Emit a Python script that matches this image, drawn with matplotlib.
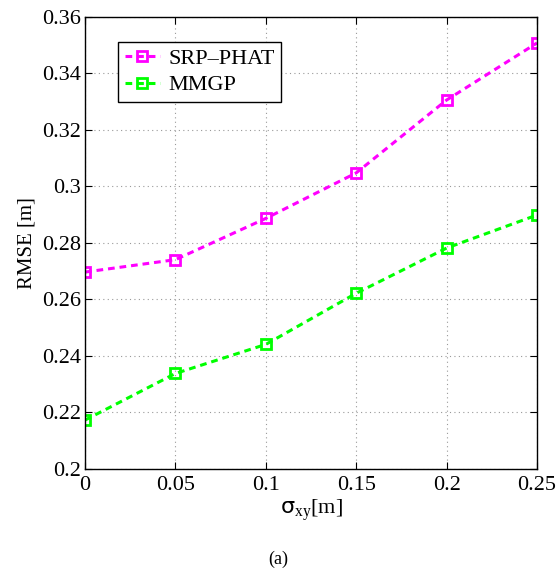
import matplotlib
matplotlib.use("Agg")
import matplotlib.pyplot as plt
import numpy as np

sigma_xy = [0, 0.05, 0.1, 0.15, 0.2, 0.25]
rmse_srp_phat = [0.2697, 0.2741, 0.2887, 0.3048, 0.3306, 0.3508]
rmse_mmgp = [0.2173, 0.2338, 0.2441, 0.2622, 0.2782, 0.2899]
x_ticks = [0, 0.05, 0.1, 0.15, 0.2, 0.25]
x_tick_labels = ["0", "0.05", "0.1", "0.15", "0.2", "0.25"]
y_ticks = [0.2, 0.22, 0.24, 0.26, 0.28, 0.3, 0.32, 0.34, 0.36]
y_tick_labels = ["0.2", "0.22", "0.24", "0.26", "0.28", "0.3", "0.32", "0.34", "0.36"]

plt.rcParams["font.family"] = ["Liberation Serif", "DejaVu Serif"]
plt.rcParams["mathtext.fontset"] = "custom"
plt.rcParams["mathtext.rm"] = "Liberation Serif"
plt.rcParams["mathtext.it"] = "Liberation Serif:italic"
plt.rcParams["mathtext.sf"] = "DejaVu Sans"

fig = plt.figure(figsize=(5.56, 5.72), dpi=100)
ax = fig.add_axes([0.1529, 0.1801, 0.8129, 0.7902])

line_kw = dict(linestyle=(0, (2.2, 1.6)), linewidth=2.2, marker="s",
               markersize=7, markerfacecolor="none", markeredgewidth=2)
ax.plot(sigma_xy, rmse_srp_phat, color="#ff00ff", label="SRP\u2013PHAT", **line_kw)
ax.plot(sigma_xy, rmse_mmgp, color="#00ff00", label="MMGP", **line_kw)

ax.set_xlim(0, 0.25)
ax.set_ylim(0.2, 0.36)
ax.set_xticks(x_ticks)
ax.set_xticklabels(x_tick_labels)
ax.set_yticks(y_ticks)
ax.set_yticklabels(y_tick_labels)
ax.tick_params(direction="in", top=True, right=True, labelsize=16, length=5)
ax.tick_params(axis="x", pad=5)
ax.tick_params(axis="y", pad=3)
ax.grid(True, linestyle=(0, (1, 3)), color="#999999", linewidth=0.8)
for spine in ax.spines.values():
    spine.set_linewidth(1.0)

ax.set_xlabel(r"$\mathsf{\sigma}_{\mathrm{xy}}$[m]", fontsize=16, labelpad=2)
ax.set_ylabel("RMSE [m]", fontsize=15, labelpad=4)

leg = ax.legend(loc="upper left", bbox_to_anchor=(0.073, 0.9447), borderaxespad=0,
                fontsize=16, frameon=True, fancybox=False, handlelength=1.6,
                borderpad=0.3, labelspacing=0.25, handletextpad=0.35)
leg.get_frame().set_edgecolor("black")
leg.get_frame().set_linewidth(1.0)
leg.get_frame().set_alpha(1)

fig.text(0.5, 0.0227, "(a)", ha="center", va="center", fontsize=13)

fig.savefig("out.png", dpi=100)
